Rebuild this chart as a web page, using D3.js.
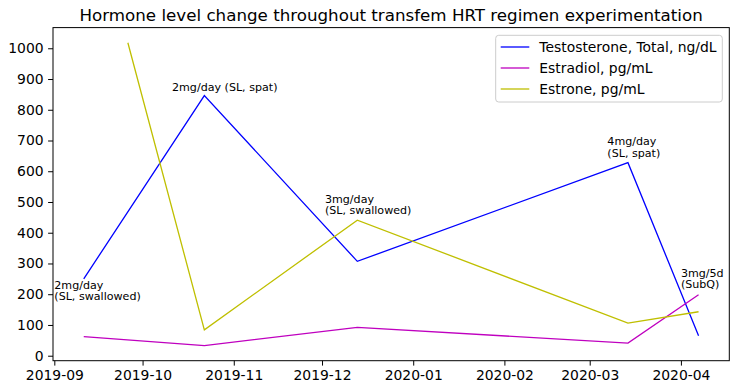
<!DOCTYPE html>
<html>
<head>
<meta charset="utf-8">
<script src="https://cdn.jsdelivr.net/npm/d3@7"></script>
<style>
  body { margin: 0; background: #fff; }
  text { font-family: "DejaVu Sans", sans-serif; fill: #000; }
</style>
</head>
<body>
<svg id="chart" width="738" height="390"></svg>
<script>
// lab dates and values
const testoDates = ["2019-09-11", "2019-10-22", "2019-12-13", "2020-03-14", "2020-04-07"];
const testoValues = [250, 846, 307, 628, 65];
const estradiolDates = ["2019-09-11", "2019-10-22", "2019-12-13", "2020-03-14", "2020-04-07"];
const estradiolValues = [62, 33, 92, 41, 198];
const estroneDates = ["2019-09-26", "2019-10-22", "2019-12-13", "2020-03-14", "2020-04-07"];
const estroneValues = [1018, 84, 441, 106, 143];

const seriesNames = ["Testosterone, Total, ng/dL", "Estradiol, pg/mL", "Estrone, pg/mL"];
const seriesColors = ["#0000ff", "#bf00bf", "#bfbf00"];

const yTicks = [0, 100, 200, 300, 400, 500, 600, 700, 800, 900, 1000];

// regimen notes: date / value = first line's left baseline
const noteDates = ["2019-09-01", "2019-10-11", "2019-12-02", "2020-03-07", "2020-04-01"];
const noteValues = [217, 861, 497, 684, 256];
const noteLines = [
  ["2mg/day", "(SL, swallowed)"],
  ["2mg/day (SL, spat)"],
  ["3mg/day", "(SL, swallowed)"],
  ["4mg/day", "(SL, spat)"],
  ["3mg/5d", "(SubQ)"]
];

const W = 738, H = 390;
const margin = { top: 27.6, right: 8.7, bottom: 29.3, left: 53 };
const plotW = W - margin.left - margin.right;
const plotH = H - margin.top - margin.bottom;

const parse = d3.timeParse("%Y-%m-%d");
const series = [
  { dates: testoDates, values: testoValues },
  { dates: estradiolDates, values: estradiolValues },
  { dates: estroneDates, values: estroneValues }
].map((s, i) => ({
  name: seriesNames[i],
  color: seriesColors[i],
  points: s.dates.map((d, j) => ({ date: parse(d), value: s.values[j] }))
}));

// matplotlib-style 5% padding
const allPts = series.flatMap(s => s.points);
const [tMin, tMax] = d3.extent(allPts, p => +p.date);
const tPad = (tMax - tMin) * 0.05;
const [vMin, vMax] = d3.extent(allPts, p => p.value);
const vPad = (vMax - vMin) * 0.05;

const x = d3.scaleTime().domain([new Date(tMin - tPad), new Date(tMax + tPad)]).range([0, plotW]);
const y = d3.scaleLinear().domain([vMin - vPad, vMax + vPad]).range([plotH, 0]);

const svg = d3.select("#chart");
const g = svg.append("g").attr("transform", `translate(${margin.left},${margin.top})`);

// title
svg.append("text")
  .attr("x", margin.left + plotW / 2)
  .attr("y", 21)
  .attr("text-anchor", "middle")
  .style("font-size", "16.7px")
  .text("Hormone level change throughout transfem HRT regimen experimentation");

// lines
const line = d3.line().x(p => x(p.date)).y(p => y(p.value));
series.forEach(s => {
  g.append("path")
    .datum(s.points)
    .attr("fill", "none")
    .attr("stroke", s.color)
    .attr("stroke-width", 1.3)
    .attr("d", line);
});

// notes
noteDates.forEach((d, i) => {
  const t = g.append("text")
    .attr("x", x(parse(d)))
    .attr("y", y(noteValues[i]))
    .style("font-size", "11.1px");
  noteLines[i].forEach((ln, k) => {
    t.append("tspan")
      .attr("x", x(parse(d)))
      .attr("dy", k === 0 ? 0 : 11.5)
      .text(ln);
  });
});

// axes
const xAxis = d3.axisBottom(x)
  .ticks(d3.timeMonth.every(1))
  .tickFormat(d3.timeFormat("%Y-%m"))
  .tickSize(4.9)
  .tickPadding(4.2);
const gx = g.append("g").attr("transform", `translate(0,${plotH})`).call(xAxis);

const yAxis = d3.axisLeft(y).tickValues(yTicks).tickFormat(d3.format("d"))
  .tickSize(4.9).tickPadding(4.5);
const gy = g.append("g").call(yAxis);

[gx, gy].forEach(a => {
  a.select(".domain").remove();
  a.selectAll(".tick line").attr("stroke", "#000").attr("stroke-width", 1);
  a.selectAll(".tick text").style("font-size", "13.9px").style("font-family", "DejaVu Sans, sans-serif");
});

// frame
g.append("rect")
  .attr("width", plotW).attr("height", plotH)
  .attr("fill", "none").attr("stroke", "#000").attr("stroke-width", 1);

// legend
const lg = svg.append("g").attr("transform", "translate(495.7,35.3)");
lg.append("rect")
  .attr("width", 226.6).attr("height", 66.7)
  .attr("rx", 3)
  .attr("fill", "#fff").attr("fill-opacity", 0.8)
  .attr("stroke", "#cccccc").attr("stroke-width", 1);
seriesNames.forEach((name, i) => {
  const cy = 11.7 + i * 21;
  lg.append("line")
    .attr("x1", 5).attr("x2", 33.6)
    .attr("y1", cy).attr("y2", cy)
    .attr("stroke", seriesColors[i]).attr("stroke-width", 1.3);
  lg.append("text")
    .attr("x", 43.6).attr("y", cy)
    .attr("dy", "0.35em")
    .style("font-size", "13.9px")
    .text(name);
});
</script>
</body>
</html>
